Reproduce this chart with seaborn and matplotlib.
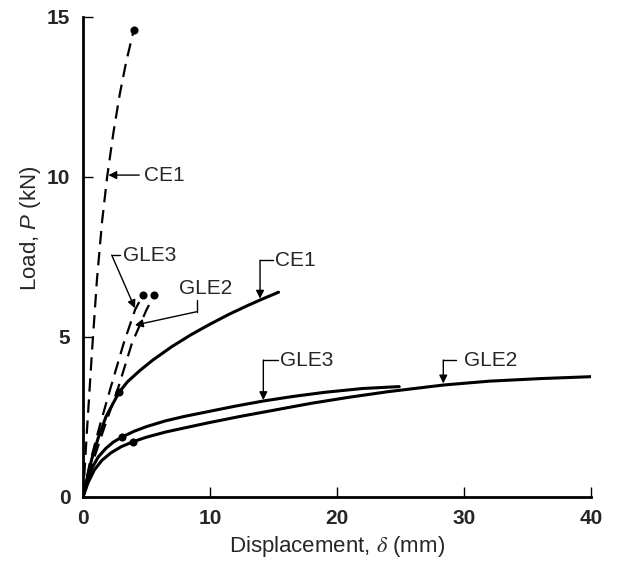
import matplotlib
matplotlib.use("Agg")
import matplotlib.pyplot as plt
import seaborn as sns

# ---------------- data ----------------
# dashed curves
ce1_dash_x = [0, 0.3, 0.7, 1.1, 1.5, 1.9, 2.4, 2.9, 3.4, 4.0]
ce1_dash_y = [0, 2.0, 4.5, 6.8, 8.6, 10.0, 11.4, 12.6, 13.6, 14.6]
gle3_dash_x = [0, 0.5, 1.3, 2.2, 3.2, 4.1, 4.7]
gle3_dash_y = [0, 1.0, 2.2, 3.45, 4.8, 5.85, 6.3]
gle2_dash_x = [0, 0.65, 1.7, 2.8, 3.85, 5.0, 5.6]
gle2_dash_y = [0, 0.95, 2.2, 3.45, 4.8, 5.85, 6.3]

# solid curves
ce1_x = [0, 0.3, 0.7, 1.2, 1.8, 2.4, 2.86, 3.5, 4.5, 5.5, 7.0, 8.5, 10.0, 11.5, 13.0, 14.2, 15.4]
ce1_y = [0, 0.55, 1.2, 1.85, 2.5, 2.95, 3.28, 3.6, 3.96, 4.28, 4.7, 5.07, 5.4, 5.71, 5.99, 6.2, 6.4]
gle3_x = [0, 0.3, 0.7, 1.2, 1.8, 2.4, 3.05, 4.0, 5.0, 6.5, 8.0, 10.0, 12.0, 14.2, 16.5, 19.0, 22.0, 24.9]
gle3_y = [0, 0.45, 0.9, 1.25, 1.52, 1.72, 1.87, 2.05, 2.2, 2.38, 2.52, 2.68, 2.84, 3.0, 3.14, 3.27, 3.39, 3.45]
gle2_x = [0, 0.4, 0.9, 1.5, 2.2, 3.0, 3.96, 5.0, 6.5, 8.0, 10.0, 12.4, 15.0, 18.0, 21.0, 24.0, 28.4, 32.0, 36.0, 40.0]
gle2_y = [0, 0.45, 0.85, 1.15, 1.38, 1.57, 1.73, 1.87, 2.03, 2.16, 2.33, 2.52, 2.71, 2.93, 3.12, 3.29, 3.5, 3.62, 3.7, 3.76]

# marked points
dot_x = [4.0, 4.7, 5.6, 2.86, 3.05, 3.96]
dot_y = [14.6, 6.3, 6.3, 3.28, 1.87, 1.73]

x_ticks = [0, 10, 20, 30, 40]
y_ticks = [0, 5, 10, 15]

# ---------------- style ----------------
sns.set_style("ticks")
plt.rcParams["font.family"] = ["Liberation Sans", "DejaVu Sans"]
plt.rcParams["mathtext.fontset"] = "custom"
plt.rcParams["mathtext.rm"] = "Liberation Sans"
plt.rcParams["mathtext.it"] = "Liberation Sans:italic"

fig = plt.figure(figsize=(6.19, 5.66), dpi=100)
ax = fig.add_axes([83 / 619, 1 - 497 / 566, 508 / 619, 480 / 566])

K = "black"
for xs, ys in [(ce1_dash_x, ce1_dash_y), (gle3_dash_x, gle3_dash_y), (gle2_dash_x, gle2_dash_y)]:
    sns.lineplot(x=xs, y=ys, ax=ax, sort=False, estimator=None, color=K,
                 lw=1.6, linestyle=(0, (6, 3.5)))
for xs, ys in [(ce1_x, ce1_y), (gle3_x, gle3_y), (gle2_x, gle2_y)]:
    sns.lineplot(x=xs, y=ys, ax=ax, sort=False, estimator=None, color=K, lw=2.2)
sns.scatterplot(x=dot_x, y=dot_y, ax=ax, color=K, s=34, edgecolor=K, linewidth=0, zorder=5)

ax.set_xlim(0, 40)
ax.set_ylim(0, 15)
ax.set_xticks(x_ticks)
ax.set_yticks(y_ticks)
ax.set_xticklabels([str(v) for v in x_ticks], fontsize=15, fontweight="bold")
ax.set_yticklabels([str(v) for v in y_ticks], fontsize=15, fontweight="bold")
ax.tick_params(axis="both", direction="in", length=7, width=1.0, color=K)
ax.tick_params(axis="x", pad=9)
ax.tick_params(axis="y", pad=9)
sns.despine(ax=ax)
for s in ["left", "bottom"]:
    ax.spines[s].set_linewidth(2.0)
    ax.spines[s].set_color(K)

ax.set_xlabel("Displacement, $\\delta$ (mm)", fontsize=16, math_fontfamily="stix")
ax.set_ylabel("Load, $P$ (kN)", fontsize=16)
ax.xaxis.set_label_coords(0.50, -0.078)
ax.yaxis.set_label_coords(-0.078, 0.56)

# ---------------- annotations ----------------
arw = dict(arrowstyle="-|>", mutation_scale=12, lw=1.0, color=K, shrinkA=0, shrinkB=0)
fs = 15

# CE1 (dashed)
ax.annotate("", xy=(2.0, 10.06), xytext=(4.43, 10.06), arrowprops=arw)
ax.text(4.83, 10.06, "CE1", fontsize=fs, va="center", ha="left")

# GLE3 (dashed)
ax.plot([2.91, 2.26], [7.56, 7.56], color=K, lw=1.0)
ax.annotate("", xy=(4.09, 5.9), xytext=(2.26, 7.56), arrowprops=arw)
ax.text(3.15, 7.56, "GLE3", fontsize=fs, va="center", ha="left")

# GLE2 (dashed)
ax.plot([8.95, 8.95], [6.16, 5.79], color=K, lw=1.0)
ax.annotate("", xy=(4.09, 5.37), xytext=(8.95, 5.79), arrowprops=arw)
ax.text(7.56, 6.53, "GLE2", fontsize=fs, va="center", ha="left")

# CE1 (solid)
ax.plot([13.94, 14.96], [7.4, 7.4], color=K, lw=1.0)
ax.annotate("", xy=(13.94, 6.2), xytext=(13.94, 7.4), arrowprops=arw)
ax.text(15.1, 7.4, "CE1", fontsize=fs, va="center", ha="left")

# GLE3 (solid)
ax.plot([14.2, 15.38], [4.28, 4.28], color=K, lw=1.0)
ax.annotate("", xy=(14.2, 3.03), xytext=(14.2, 4.28), arrowprops=arw)
ax.text(15.5, 4.28, "GLE3", fontsize=fs, va="center", ha="left")

# GLE2 (solid)
ax.plot([28.37, 29.37], [4.28, 4.28], color=K, lw=1.0)
ax.annotate("", xy=(28.37, 3.55), xytext=(28.37, 4.28), arrowprops=arw)
ax.text(30.0, 4.28, "GLE2", fontsize=fs, va="center", ha="left")

fig.savefig("out.png", dpi=100, facecolor="white")
